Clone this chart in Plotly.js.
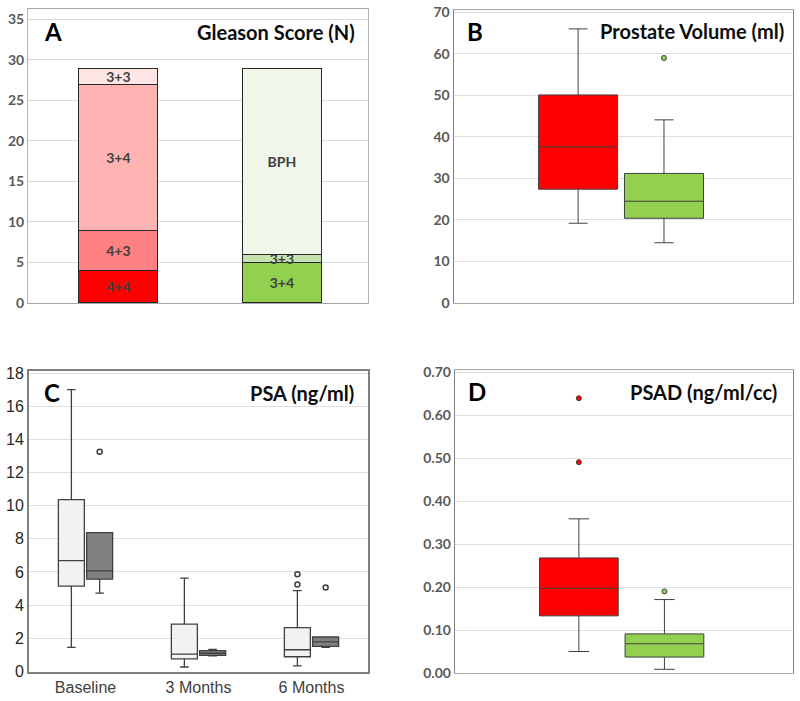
<!DOCTYPE html>
<html>
<head>
<meta charset="utf-8">
<script src="https://cdn.plot.ly/plotly-3.0.1.min.js"></script>
<style>html,body{margin:0;padding:0;background:#fff;}#chart{width:800px;height:701px;}</style>
</head>
<body>
<div id="chart"></div>
<script>
// ---------- Panel A: Gleason score (N) ----------
const gleasonGroups = ["Cancer", "BPH"];
const gleasonSegGroup = ["Cancer", "Cancer", "Cancer", "Cancer", "BPH", "BPH", "BPH"];
const gleasonSegLabel = ["4+4", "4+3", "3+4", "3+3", "3+4", "3+3", "BPH"];
const gleasonSegCount = [4, 5, 18, 2, 5, 1, 23];

// ---------- Panel B: Prostate volume (ml) ----------
const volGroups = ["Cancer", "BPH"];
const volLowerFence = [19.2, 14.5];
const volQ1 = [27.4, 20.4];
const volMedian = [37.6, 24.5];
const volQ3 = [50.1, 31.2];
const volUpperFence = [66.0, 44.1];
const volOutlierGroup = ["BPH"];
const volOutlierValue = [59.0];

// ---------- Panel C: PSA (ng/ml) ----------
const psaTimes = ["Baseline", "3 Months", "6 Months"];
const psaALower = [1.45, 0.27, 0.34];
const psaAQ1 = [5.15, 0.76, 0.89];
const psaAMedian = [6.68, 1.05, 1.31];
const psaAQ3 = [10.36, 2.86, 2.64];
const psaAUpper = [17.0, 5.63, 4.88];
const psaAOutlierTime = ["6 Months", "6 Months"];
const psaAOutlierValue = [5.87, 5.25];

const psaBLower = [4.73, 0.95, 1.45];
const psaBQ1 = [5.57, 0.97, 1.52];
const psaBMedian = [6.07, 1.10, 1.78];
const psaBQ3 = [8.37, 1.26, 2.08];
const psaBUpper = [8.37, 1.33, 2.08];
const psaBOutlierTime = ["Baseline", "6 Months"];
const psaBOutlierValue = [13.25, 5.07];

// ---------- Panel D: PSAD (ng/ml/cc) ----------
const psadGroups = ["Cancer", "BPH"];
const psadLowerFence = [0.050, 0.0085];
const psadQ1 = [0.133, 0.037];
const psadMedian = [0.197, 0.068];
const psadQ3 = [0.268, 0.091];
const psadUpperFence = [0.359, 0.171];
const psadOutlierGroup = ["Cancer", "Cancer", "BPH"];
const psadOutlierValue = [0.640, 0.491, 0.190];

// ---------- styles ----------
const segColors = ["#FF0000", "#FF8080", "#FFB3B3", "#FFE6E6", "#92D050", "#C6E2AE", "#F0F6EA"];
const groupColors = {"Cancer": "#FF0000", "BPH": "#92D050"};
const lineCol = "#404040";
const tickFontBold = {family: "Lato, 'Open Sans', sans-serif", size: 14, color: "#595959", weight: 700};
const titleFont = {family: "Lato, 'Open Sans', sans-serif", size: 20, color: "#0d0d0d", weight: 700};
const letterFont = {family: "Lato, 'Open Sans', sans-serif", size: 24, color: "#000000", weight: 700};

const traces = [];

// Panel A stacked bars
for (let i = 0; i < gleasonSegCount.length; i++) {
  traces.push({
    type: "bar", xaxis: "x", yaxis: "y",
    x: [gleasonSegGroup[i]], y: [gleasonSegCount[i]],
    text: [gleasonSegLabel[i]],
    textposition: "inside", insidetextanchor: "middle", constraintext: "none",
    textfont: {family: "Lato, sans-serif", size: 14, color: "#404040", weight: 700},
    marker: {color: segColors[i], line: {color: "#262626", width: 1}},
    hoverinfo: "skip", cliponaxis: false
  });
}

// Panel B boxes
volGroups.forEach((g, i) => {
  traces.push({
    type: "box", xaxis: "x2", yaxis: "y2",
    x: [g], q1: [volQ1[i]], median: [volMedian[i]], q3: [volQ3[i]],
    lowerfence: [volLowerFence[i]], upperfence: [volUpperFence[i]],
    fillcolor: groupColors[g], line: {color: lineCol, width: 1},
    whiskerwidth: 0.24, width: 0.92, offsetgroup: "b", boxpoints: false, hoverinfo: "skip"
  });
});
traces.push({
  type: "scatter", mode: "markers", xaxis: "x2", yaxis: "y2",
  x: volOutlierGroup, y: volOutlierValue,
  marker: {size: 5, color: volOutlierGroup.map(g => groupColors[g]), line: {color: lineCol, width: 1}},
  hoverinfo: "skip"
});

// Panel C boxes
traces.push({
  type: "box", xaxis: "x3", yaxis: "y3", x: psaTimes,
  q1: psaAQ1, median: psaAMedian, q3: psaAQ3, lowerfence: psaALower, upperfence: psaAUpper,
  fillcolor: "#F2F2F2", line: {color: lineCol, width: 1.3},
  whiskerwidth: 0.33, offsetgroup: "light", boxpoints: false, hoverinfo: "skip"
});
traces.push({
  type: "box", xaxis: "x3", yaxis: "y3", x: psaTimes,
  q1: psaBQ1, median: psaBMedian, q3: psaBQ3, lowerfence: psaBLower, upperfence: psaBUpper,
  fillcolor: "#808080", line: {color: lineCol, width: 1.3},
  whiskerwidth: 0.33, offsetgroup: "dark", boxpoints: false, hoverinfo: "skip"
});
traces.push({
  type: "scatter", mode: "markers", xaxis: "x3", yaxis: "y3",
  x: psaAOutlierTime, y: psaAOutlierValue, offsetgroup: "light",
  marker: {size: 5, color: "#FFFFFF", line: {color: lineCol, width: 1.5}}, hoverinfo: "skip"
});
traces.push({
  type: "scatter", mode: "markers", xaxis: "x3", yaxis: "y3",
  x: psaBOutlierTime, y: psaBOutlierValue, offsetgroup: "dark",
  marker: {size: 5, color: "#FFFFFF", line: {color: lineCol, width: 1.5}}, hoverinfo: "skip"
});

// Panel D boxes
psadGroups.forEach((g, i) => {
  traces.push({
    type: "box", xaxis: "x4", yaxis: "y4",
    x: [g], q1: [psadQ1[i]], median: [psadMedian[i]], q3: [psadQ3[i]],
    lowerfence: [psadLowerFence[i]], upperfence: [psadUpperFence[i]],
    fillcolor: groupColors[g], line: {color: lineCol, width: 1},
    whiskerwidth: 0.26, width: 0.92, offsetgroup: "d", boxpoints: false, hoverinfo: "skip"
  });
});
traces.push({
  type: "scatter", mode: "markers", xaxis: "x4", yaxis: "y4",
  x: psadOutlierGroup, y: psadOutlierValue,
  marker: {size: 5, color: psadOutlierGroup.map(g => groupColors[g]), line: {color: lineCol, width: 1}},
  hoverinfo: "skip"
});

const frame = (col, w) => ({showline: true, mirror: true, linecolor: col, linewidth: w, zeroline: false, fixedrange: true});
const catX = (dom, anchor, cats, rng) => Object.assign({
  domain: dom, anchor: anchor, type: "category", categoryorder: "array", categoryarray: cats,
  range: rng, showticklabels: false, ticks: "", showgrid: false
}, frame("#a6a6a6", 1));

const layout = {
  width: 800, height: 701,
  margin: {l: 0, r: 0, t: 0, b: 0},
  paper_bgcolor: "#ffffff", plot_bgcolor: "#ffffff",
  showlegend: false,
  barmode: "stack", bargap: 0.517,
  boxmode: "group", boxgap: 0.5, boxgroupgap: 0.08,
  scattermode: "group", scattergap: 0.5,
  xaxis: catX([0.035, 0.46], "y", gleasonGroups, [-0.553, 1.527]),
  yaxis: Object.assign({domain: [0.5678, 0.9872], anchor: "x", range: [0, 36.3],
    tickvals: [0, 5, 10, 15, 20, 25, 30, 35], gridcolor: "#d9d9d9", tickfont: tickFontBold, ticks: ""},
    frame("#b3b3b3", 1)),
  xaxis2: catX([0.5675, 0.991], "y2", volGroups, [-1.445, 2.5]),
  yaxis2: Object.assign({domain: [0.5678, 0.9857], anchor: "x2", range: [0, 70.55],
    dtick: 10, tick0: 0, gridcolor: "#e0e0e0", tickfont: tickFontBold, ticks: ""},
    frame("#808080", 1.5)),
  xaxis3: Object.assign({domain: [0.03625, 0.46], anchor: "y3", type: "category",
    categoryorder: "array", categoryarray: psaTimes, range: [-0.5, 2.5], ticks: "", showgrid: false,
    tickfont: {family: "'Liberation Sans', Arial, sans-serif", size: 16, color: "#404040"}},
    frame("#808080", 2)),
  yaxis3: Object.assign({domain: [0.0414, 0.4707], anchor: "x3", range: [-0.03, 18.12],
    dtick: 2, tick0: 0, gridcolor: "#e0e0e0", ticks: "",
    tickfont: {family: "'Liberation Sans', Arial, sans-serif", size: 16, color: "#262626"}},
    frame("#808080", 2)),
  xaxis4: catX([0.569, 0.991], "y4", psadGroups, [-1.445, 2.5]),
  yaxis4: Object.assign({domain: [0.04, 0.472], anchor: "x4", range: [0, 0.7054],
    dtick: 0.1, tick0: 0, tickformat: ".2f", gridcolor: "#e0e0e0", tickfont: tickFontBold, ticks: ""},
    frame("#808080", 1.5)),
  annotations: [
    {text: "A", x: 0.0525, y: 0.9544, xref: "paper", yref: "paper", xanchor: "left", yanchor: "middle", showarrow: false, font: letterFont},
    {text: "Gleason Score (N)", x: 0.446, y: 0.9544, xref: "paper", yref: "paper", xanchor: "right", yanchor: "middle", showarrow: false, font: titleFont},
    {text: "B", x: 0.581, y: 0.9544, xref: "paper", yref: "paper", xanchor: "left", yanchor: "middle", showarrow: false, font: letterFont},
    {text: "Prostate Volume (ml)", x: 0.9825, y: 0.9558, xref: "paper", yref: "paper", xanchor: "right", yanchor: "middle", showarrow: false, font: titleFont},
    {text: "C", x: 0.0525, y: 0.4394, xref: "paper", yref: "paper", xanchor: "left", yanchor: "middle", showarrow: false, font: letterFont},
    {text: "PSA (ng/ml)", x: 0.445, y: 0.4394, xref: "paper", yref: "paper", xanchor: "right", yanchor: "middle", showarrow: false, font: titleFont},
    {text: "D", x: 0.5825, y: 0.4408, xref: "paper", yref: "paper", xanchor: "left", yanchor: "middle", showarrow: false, font: letterFont},
    {text: "PSAD (ng/ml/cc)", x: 0.974, y: 0.4408, xref: "paper", yref: "paper", xanchor: "right", yanchor: "middle", showarrow: false, font: titleFont}
  ]
};

Plotly.newPlot("chart", traces, layout, {displayModeBar: false, staticPlot: true});
</script>
</body>
</html>
